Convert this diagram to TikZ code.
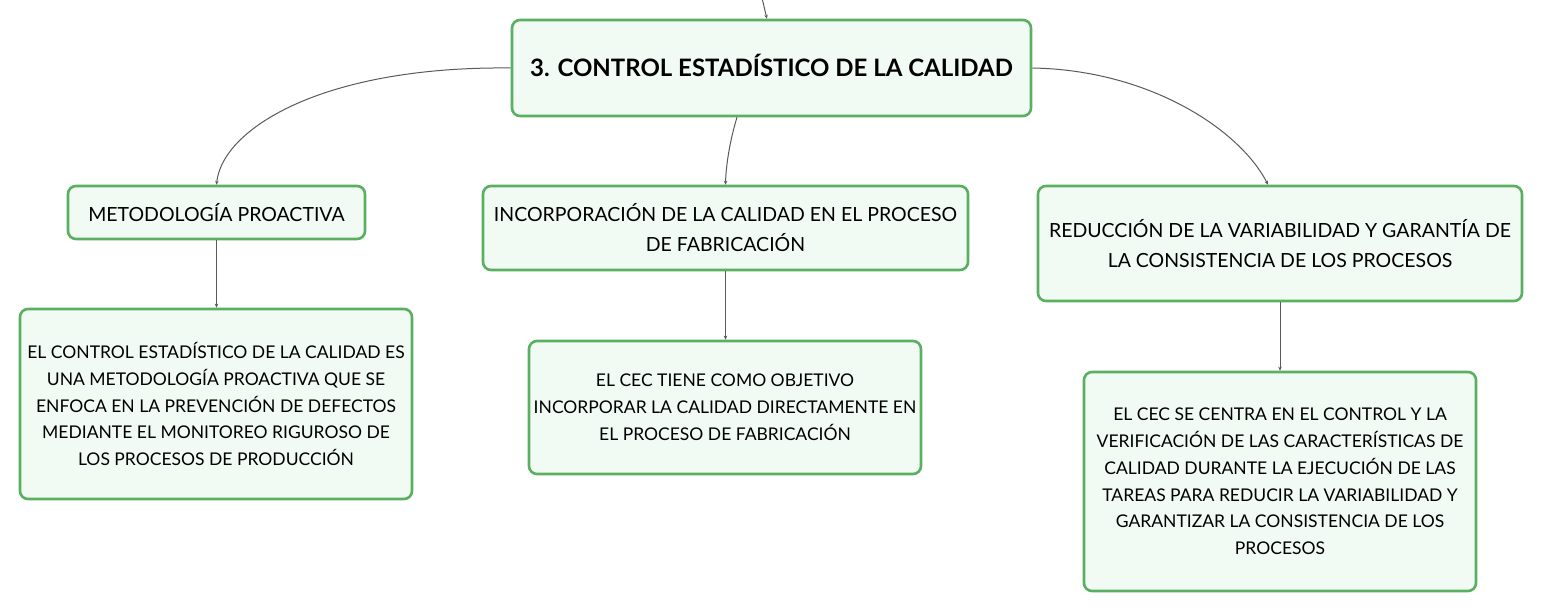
\documentclass[tikz,border=0pt]{standalone}
\usepackage{fontspec}
\setmainfont{Lato}
\usetikzlibrary{arrows.meta}
\definecolor{boxline}{RGB}{88,176,96}
\definecolor{boxfill}{RGB}{242,250,244}
\definecolor{conn}{RGB}{90,90,90}
\tikzset{
  box/.style={draw=boxline, fill=boxfill, line width=2.6pt, rounded corners=8pt,
    inner sep=0pt, align=center, text=black},
  rootbox/.style={box, font=\fontsize{24}{28}\selectfont\bfseries, text height=17pt, text depth=0pt},
  headbox/.style={box, font=\fontsize{19.5}{30}\selectfont},
  leafbox/.style={box, font=\fontsize{17.5}{26.8}\selectfont},
  link/.style={draw=conn, line width=1pt, -{Stealth[length=4pt,width=3.5pt]}}
}
\begin{document}
\begin{tikzpicture}[x=1pt,y=-1pt]
\useasboundingbox (0,0) rectangle (1543,612);
\fill[white] (0,0) rectangle (1543,612);
\node[rootbox, minimum width=519pt, minimum height=96pt] (root) at (771.5,68) {3. CONTROL ESTADÍSTICO DE LA CALIDAD};
\node[headbox, minimum width=297pt, minimum height=53pt] (m1) at (216.5,212.5) {METODOLOGÍA PROACTIVA};
\node[headbox, minimum width=485pt, minimum height=84pt] (m2) at (725.5,228) {INCORPORACIÓN DE LA CALIDAD EN EL PROCESO\\DE FABRICACIÓN};
\node[headbox, minimum width=484pt, minimum height=115pt] (m3) at (1280,243.5) {REDUCCIÓN DE LA VARIABILIDAD Y GARANTÍA DE\\LA CONSISTENCIA DE LOS PROCESOS};
\node[leafbox, minimum width=392pt, minimum height=190pt] (c1) at (216,404) {EL CONTROL ESTADÍSTICO DE LA CALIDAD ES\\UNA METODOLOGÍA PROACTIVA QUE SE\\ENFOCA EN LA PREVENCIÓN DE DEFECTOS\\MEDIANTE EL MONITOREO RIGUROSO DE\\LOS PROCESOS DE PRODUCCIÓN};
\node[leafbox, minimum width=392pt, minimum height=133pt] (c2) at (725,407.5) {EL CEC TIENE COMO OBJETIVO\\INCORPORAR LA CALIDAD DIRECTAMENTE EN\\EL PROCESO DE FABRICACIÓN};
\node[leafbox, minimum width=392pt, minimum height=219pt] (c3) at (1280,481.5) {EL CEC SE CENTRA EN EL CONTROL Y LA\\VERIFICACIÓN DE LAS CARACTERÍSTICAS DE\\CALIDAD DURANTE LA EJECUCIÓN DE LAS\\TAREAS PARA REDUCIR LA VARIABILIDAD Y\\GARANTIZAR LA CONSISTENCIA DE LOS\\PROCESOS};
\coordinate (topin) at (762,-2);
\draw[link] (topin) .. controls (764,8) .. ([xshift=-4.5pt]root.north);
\draw[link] (root.west) .. controls (320,66) and (222,130) .. (m1.north);
\draw[link] ([xshift=-34.5pt]root.south) .. controls (730,140) and (726,165) .. (m2.north);
\draw[link] (root.east) .. controls (1150,70) and (1240,130) .. ([xshift=-12pt]m3.north);
\draw[link] (m1.south) -- (c1.north -| m1.south);
\draw[link] (m2.south) -- (c2.north -| m2.south);
\draw[link] (m3.south) -- (c3.north);
\end{tikzpicture}
\end{document}
